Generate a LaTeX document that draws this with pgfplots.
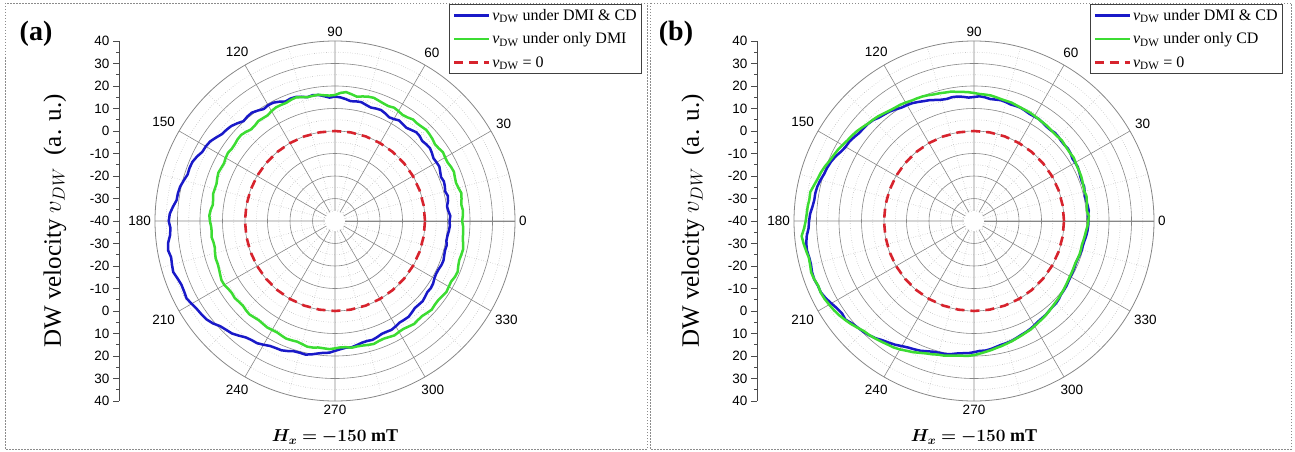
\documentclass[border=0pt]{standalone}
\usepackage{pgfplots}
\pgfplotsset{compat=1.18}
\usepgfplotslibrary{polar}
\usepackage{bm}
\usepackage{fontspec}
\setmainfont{Liberation Serif}
\setsansfont{Liberation Sans}

\definecolor{cblue}{RGB}{25,25,200}
\definecolor{cgreen}{RGB}{60,220,50}
\definecolor{cred}{RGB}{215,35,45}
\definecolor{cgrid}{RGB}{135,135,135}

\pgfplotstableread{
a r
0 50.9
2.5 51.3
5 50.6
7.5 50.2
10 51.0
12.5 51.4
15 50.7
17.5 51.2
20 51.5
22.5 51.0
25 51.6
27.5 52.3
30 52.1
32.5 51.9
35 52.6
37.5 53.2
40 53.0
42.5 52.6
45 53.3
47.5 53.5
50 52.8
52.5 52.2
55 52.5
57.5 53.0
60 52.3
62.5 52.0
65 52.8
67.5 53.4
70 53.2
72.5 52.9
75 53.4
77.5 54.1
80 54.0
82.5 53.7
85 54.4
87.5 55.0
90 55.3
92.5 54.9
95 55.7
97.5 56.5
100 56.8
102.5 56.4
105 57.1
107.5 57.8
110 57.9
112.5 57.5
115 58.5
117.5 59.3
120 59.4
122.5 59.0
125 59.9
127.5 60.7
130 60.6
132.5 60.2
135 61.4
137.5 62.5
140 63.0
142.5 63.4
145 64.6
147.5 65.8
150 66.3
152.5 66.5
155 67.7
157.5 68.6
160 68.8
162.5 68.7
165 69.6
167.5 70.5
170 70.9
172.5 71.0
175 72.3
177.5 73.5
180 73.9
182.5 73.2
185 73.6
187.5 74.8
190 75.3
192.5 74.6
195 75.0
197.5 75.4
200 74.5
202.5 73.9
205 74.0
207.5 74.4
210 73.6
212.5 72.8
215 72.4
217.5 71.9
220 70.8
222.5 69.2
225 68.4
227.5 67.8
230 66.5
232.5 65.2
235 64.6
237.5 64.4
240 63.5
242.5 62.6
245 62.3
247.5 62.2
250 61.5
252.5 60.7
255 60.6
257.5 60.8
260 60.2
262.5 59.4
265 58.8
267.5 58.6
270 57.7
272.5 57.0
275 56.5
277.5 56.6
280 56.0
282.5 55.4
285 55.2
287.5 55.4
290 54.9
292.5 54.3
295 54.3
297.5 54.5
300 54.0
302.5 53.5
305 53.6
307.5 53.7
310 53.1
312.5 52.5
315 52.6
317.5 52.8
320 52.3
322.5 51.8
325 52.0
327.5 51.7
330 51.0
332.5 50.7
335 50.8
337.5 51.2
340 51.3
342.5 50.9
345 50.6
347.5 50.8
350 50.3
352.5 50.4
355 50.8
357.5 51.1
360 50.9
}\blueA

\pgfplotstableread{
a r
0 56.5
2.5 56.9
5 57.0
7.5 56.6
10 57.1
12.5 57.5
15 56.8
17.5 56.4
20 56.7
22.5 57.2
25 56.9
27.5 56.4
30 56.5
32.5 56.9
35 56.3
37.5 56.0
40 56.6
42.5 57.0
45 57.3
47.5 56.9
50 56.7
52.5 56.9
55 56.2
57.5 55.9
60 56.4
62.5 56.8
65 56.3
67.5 56.5
70 56.9
72.5 57.4
75 57.2
77.5 56.7
80 56.1
82.5 56.8
85 57.5
87.5 57.0
90 56.0
92.5 55.8
95 56.1
97.5 56.6
100 56.5
102.5 56.4
105 57.0
107.5 57.6
110 57.3
112.5 56.8
115 56.9
117.5 56.9
120 56.4
122.5 55.7
125 55.8
127.5 56.0
130 55.4
132.5 55.2
135 56.0
137.5 56.6
140 56.5
142.5 56.1
145 56.0
147.5 56.4
150 56.1
152.5 55.6
155 55.8
157.5 56.1
160 55.7
162.5 55.2
165 55.3
167.5 55.5
170 55.0
172.5 54.8
175 55.5
177.5 55.9
180 55.6
182.5 55.1
185 55.0
187.5 55.3
190 54.8
192.5 54.7
195 55.2
197.5 55.6
200 55.5
202.5 55.8
205 56.3
207.5 56.9
210 56.8
212.5 56.2
215 55.9
217.5 56.2
220 55.8
222.5 55.6
225 56.0
227.5 56.3
230 55.9
232.5 55.6
235 55.8
237.5 56.1
240 55.9
242.5 55.8
245 56.2
247.5 56.6
250 56.4
252.5 56.2
255 56.6
257.5 57.2
260 57.1
262.5 56.7
265 56.8
267.5 57.0
270 56.6
272.5 56.2
275 56.3
277.5 56.8
280 56.6
282.5 56.7
285 57.0
287.5 57.3
290 56.8
292.5 56.6
295 56.9
297.5 57.3
300 56.9
302.5 56.8
305 57.2
307.5 57.7
310 57.4
312.5 57.3
315 57.8
317.5 58.3
320 57.9
322.5 57.8
325 58.2
327.5 58.7
330 58.4
332.5 58.2
335 58.8
337.5 59.0
340 58.3
342.5 57.9
345 58.1
347.5 58.3
350 57.8
352.5 57.3
355 57.2
357.5 57.0
360 56.5
}\greenA

\pgfplotstableread{
a r
0 50.9
2.5 50.6
5 51.2
7.5 51.0
10 50.7
12.5 50.5
15 50.9
17.5 51.3
20 51.0
22.5 51.2
25 51.6
27.5 52.0
30 51.9
32.5 51.8
35 52.4
37.5 52.7
40 52.5
42.5 52.6
45 53.0
47.5 53.2
50 52.8
52.5 52.9
55 53.3
57.5 53.7
60 53.6
62.5 53.6
65 54.0
67.5 54.4
70 54.4
72.5 54.3
75 54.7
77.5 55.0
80 54.8
82.5 54.7
85 55.2
87.5 55.5
90 55.1
92.5 54.9
95 55.4
97.5 55.8
100 55.9
102.5 55.6
105 55.8
107.5 56.4
110 57.2
112.5 57.7
115 58.4
117.5 59.1
120 59.5
122.5 59.8
125 60.6
127.5 61.4
130 61.9
132.5 62.4
135 63.4
137.5 63.9
140 64.1
142.5 64.3
145 65.0
147.5 65.7
150 65.9
152.5 66.7
155 67.9
157.5 68.8
160 69.4
162.5 69.8
165 70.6
167.5 71.3
170 71.6
172.5 71.6
175 72.1
177.5 72.9
180 73.3
182.5 73.6
185 74.6
187.5 75.2
190 75.4
192.5 75.0
195 75.0
197.5 75.5
200 75.6
202.5 75.1
205 75.1
207.5 74.3
210 73.2
212.5 72.2
215 71.6
217.5 72.0
220 70.8
222.5 70.1
225 69.6
227.5 68.9
230 68.0
232.5 66.8
235 66.0
237.5 65.2
240 64.2
242.5 63.4
245 62.9
247.5 62.4
250 61.6
252.5 60.9
255 60.6
257.5 60.5
260 60.1
262.5 59.4
265 59.0
267.5 58.8
270 58.3
272.5 57.8
275 57.8
277.5 57.4
280 56.8
282.5 56.3
285 56.1
287.5 55.8
290 55.3
292.5 54.8
295 54.5
297.5 54.1
300 53.6
302.5 53.0
305 52.7
307.5 52.5
310 52.0
312.5 51.7
315 51.6
317.5 51.2
320 50.6
322.5 50.4
325 50.2
327.5 49.8
330 49.5
332.5 49.4
335 49.2
337.5 49.0
340 49.1
342.5 49.4
345 49.6
347.5 49.6
350 49.9
352.5 50.3
355 50.6
357.5 50.8
360 50.9
}\blueB

\pgfplotstableread{
a r
0 50.8
2.5 51.1
5 50.4
7.5 50.6
10 50.9
12.5 51.2
15 50.8
17.5 51.0
20 51.3
22.5 51.6
25 51.7
27.5 51.8
30 52.1
32.5 52.5
35 52.3
37.5 52.4
40 52.6
42.5 53.0
45 52.8
47.5 52.8
50 53.0
52.5 53.3
55 53.4
57.5 53.6
60 53.9
62.5 54.2
65 54.3
67.5 54.5
70 54.8
72.5 55.2
75 55.3
77.5 55.5
80 55.9
82.5 56.3
85 56.4
87.5 56.5
90 56.9
92.5 57.3
95 57.6
97.5 57.9
100 58.4
102.5 58.5
105 58.8
107.5 59.0
110 59.5
112.5 59.9
115 60.1
117.5 60.3
120 60.8
122.5 61.2
125 61.4
127.5 61.8
130 62.4
132.5 63.1
135 63.6
137.5 64.0
140 64.8
142.5 65.6
145 66.2
147.5 66.7
150 67.5
152.5 68.3
155 68.9
157.5 69.6
160 70.6
162.5 71.4
165 72.0
167.5 72.9
170 73.9
172.5 73.8
175 74.2
177.5 74.4
180 74.8
182.5 75.6
185 76.9
187.5 76.4
190 75.8
192.5 75.2
195 75.4
197.5 75.9
200 75.6
202.5 75.0
205 75.2
207.5 74.9
210 74.3
212.5 73.8
215 73.1
217.5 72.2
220 71.3
222.5 70.2
225 69.2
227.5 68.8
230 68.2
232.5 67.6
235 67.0
237.5 66.6
240 65.9
242.5 65.0
245 64.3
247.5 63.4
250 62.6
252.5 62.1
255 61.5
257.5 61.3
260 60.8
262.5 60.3
265 60.1
267.5 60.0
270 59.6
272.5 59.0
275 58.4
277.5 57.9
280 57.3
282.5 56.9
285 56.4
287.5 56.0
290 55.5
292.5 55.1
295 54.7
297.5 54.4
300 53.9
302.5 53.4
305 53.0
307.5 52.6
310 52.1
312.5 51.6
315 51.2
317.5 50.9
320 50.5
322.5 50.2
325 49.8
327.5 49.5
330 49.2
332.5 49.1
335 48.9
337.5 48.8
340 49.0
342.5 49.2
345 49.2
347.5 49.1
350 49.4
352.5 49.7
355 50.0
357.5 50.5
360 50.8
}\greenB

\pgfplotstableread{
a r
0 40
10 40
20 40
30 40
40 40
50 40
60 40
70 40
80 40
90 40
100 40
110 40
120 40
130 40
140 40
150 40
160 40
170 40
180 40
190 40
200 40
210 40
220 40
230 40
240 40
250 40
260 40
270 40
280 40
290 40
300 40
310 40
320 40
330 40
340 40
350 40
360 40
}\zeroline

\pgfplotsset{
  mypolar/.style={
    scale only axis, width=360pt, height=360pt,
    xmin=0, xmax=360, ymin=0, ymax=80,
    xtick={0,30,...,330}, minor xtick={15,45,...,345},
    ytick={10,20,...,70}, minor ytick={5,15,...,75},
    yticklabel style={opacity=0},
    grid=both,
    major grid style={cgrid, line width=0.6pt},
    minor grid style={cgrid!70, dotted, line width=0.6pt},
    axis line style={cgrid, line width=0.8pt},
    major tick length=0pt, minor tick length=0pt,
    xticklabel style={font=\fontsize{13.5}{14}\sffamily, inner sep=4pt},
    /pgf/number format/assume math mode=true,
    legend cell align=left,
    legend image code/.code={\draw[##1] (0pt,0pt) -- (35pt,0pt);},
    legend style={anchor=north east, draw=black!75, line width=0.6pt,
      font=\rmfamily\fontsize{16}{18}\selectfont, row sep=7pt, inner sep=3pt,
      /tikz/every even column/.append style={column sep=2pt}},
  },
  radax/.style={
    scale only axis, width=10pt, height=360pt,
    ymin=-80, ymax=80, xmin=0, xmax=1,
    hide x axis, axis y line*=left,
    ytick={-80,-70,...,80},
    yticklabels={40,30,20,10,0,-10,-20,-30,-40,-30,-20,-10,0,10,20,30,40},
    minor y tick num=1, tick align=outside,
    major tick length=6pt, minor tick length=3pt,
    y axis line style={black!70, line width=0.6pt},
    every tick/.style={black!70, line width=0.6pt},
    yticklabel style={font=\fontsize{13.5}{14}\sffamily},
  },
  bluel/.style={cblue, line width=2.5pt, line join=round},
  greenl/.style={cgreen, line width=2.5pt, line join=round},
  redl/.style={cred, line width=2.6pt, dash pattern=on 9pt off 6pt},
}

\newcommand{\vdw}{\textit{v}\textsubscript{DW}}
\newcommand{\hxlabel}{$\bm{H_x = -150}$ \textbf{mT}}

\begin{document}
\begin{tikzpicture}
\useasboundingbox (0,0) rectangle (1295pt,-452pt);
\draw[black!45, dash pattern=on 1.5pt off 1.5pt, line width=0.7pt] (5pt,-3pt) rectangle (647pt,-449pt);
\draw[black!45, dash pattern=on 1.5pt off 1.5pt, line width=0.7pt] (650pt,-3pt) rectangle (1291pt,-449pt);

% ---------------- panel (a)
\begin{axis}[radax, at={(119pt,-221pt)}, anchor=west]
\end{axis}
\begin{polaraxis}[mypolar, at={(335pt,-221pt)}, anchor=center,
  legend style={at={(axis description cs:1.353,1.103)}}]
\fill[white] (axis cs:0,0) circle[radius=10pt];
\addplot[bluel] table[x=a,y=r] {\blueA};
\addlegendentry{\vdw{} under DMI \& CD}
\addplot[greenl] table[x=a,y=r] {\greenA};
\addlegendentry{\vdw{} under only DMI}
\addplot[redl] table[x=a,y=r] {\zeroline};
\addlegendentry{\vdw{} = 0}
\end{polaraxis}
\node[font=\fontsize{28}{30}\selectfont\bfseries] at (36pt,-34pt) {(a)};
\node[rotate=90, font=\fontsize{25}{27}\selectfont] at (55pt,-221pt) {DW velocity $v_{DW}$\ \ (a. u.)};
\node[font=\fontsize{18}{20}\selectfont] at (335pt,-437pt) {\hxlabel};

% ---------------- panel (b)
\begin{axis}[radax, at={(757pt,-221pt)}, anchor=west]
\end{axis}
\begin{polaraxis}[mypolar, at={(974pt,-221pt)}, anchor=center,
  legend style={at={(axis description cs:1.358,1.103)}}]
\fill[white] (axis cs:0,0) circle[radius=10pt];
\addplot[bluel] table[x=a,y=r] {\blueB};
\addlegendentry{\vdw{} under DMI \& CD}
\addplot[greenl] table[x=a,y=r] {\greenB};
\addlegendentry{\vdw{} under only CD}
\addplot[redl] table[x=a,y=r] {\zeroline};
\addlegendentry{\vdw{} = 0}
\end{polaraxis}
\node[font=\fontsize{28}{30}\selectfont\bfseries] at (676pt,-34pt) {(b)};
\node[rotate=90, font=\fontsize{25}{27}\selectfont] at (693pt,-221pt) {DW velocity $v_{DW}$\ \ (a. u.)};
\node[font=\fontsize{18}{20}\selectfont] at (974pt,-437pt) {\hxlabel};
\end{tikzpicture}
\end{document}
